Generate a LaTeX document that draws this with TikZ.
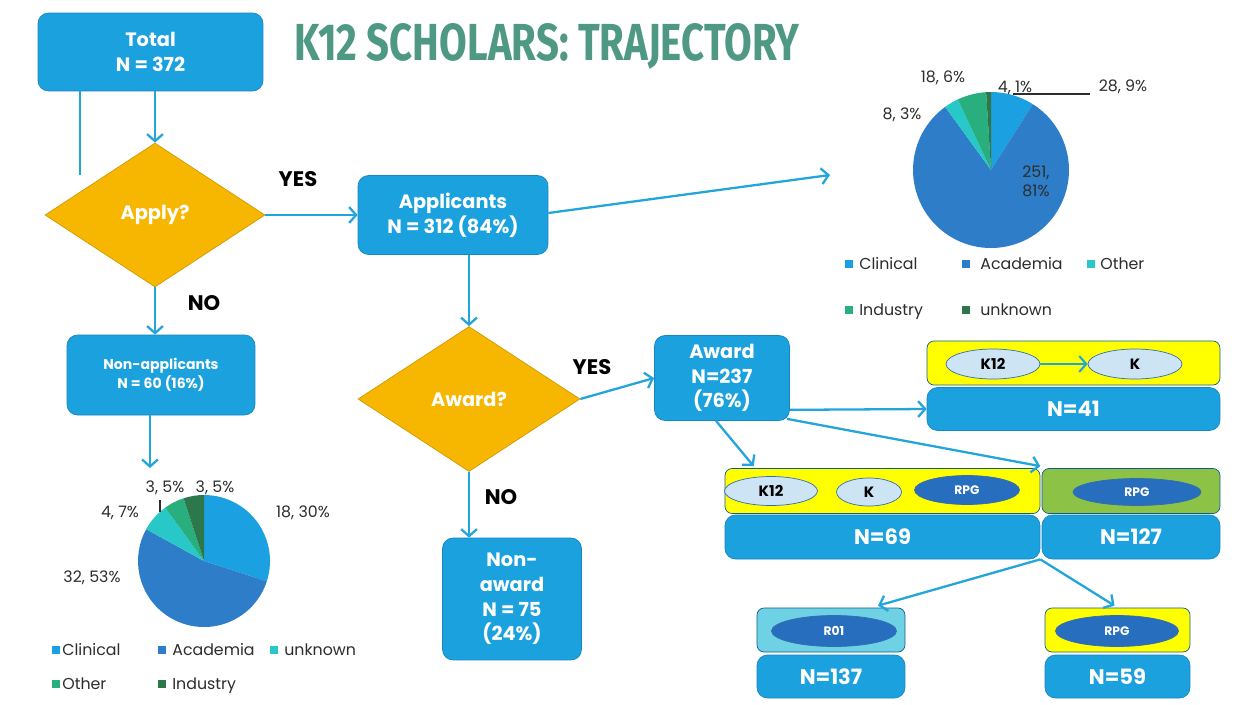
\documentclass[tikz,border=0pt]{standalone}
\usepackage{fontspec}
\usepackage{graphicx}
\setmainfont{Poppins}
\newfontfamily\titlefont{Fira Sans}
\usetikzlibrary{shapes.geometric,arrows.meta,calc}
\definecolor{boxblue}{RGB}{27,161,222}
\definecolor{boxedge}{RGB}{22,135,195}
\definecolor{dorange}{RGB}{247,182,0}
\definecolor{ylw}{RGB}{255,255,0}
\definecolor{grn}{RGB}{140,195,70}
\definecolor{cyanbox}{RGB}{110,210,228}
\definecolor{ellight}{RGB}{205,228,245}
\definecolor{eledge}{RGB}{50,110,175}
\definecolor{eldark}{RGB}{40,110,190}
\definecolor{arrowc}{RGB}{35,165,220}
\definecolor{titlec}{RGB}{78,152,132}
\definecolor{pclin}{RGB}{27,161,226}
\definecolor{pacad}{RGB}{45,125,200}
\definecolor{pcyan}{RGB}{40,200,200}
\definecolor{pteal}{RGB}{40,175,125}
\definecolor{pdark}{RGB}{45,120,75}
\definecolor{lbl}{RGB}{45,45,45}
\newcommand\pieslice[4]{\fill[#1] (0,0) -- (#2:#4) arc[start angle=#2,end angle=#3,radius=#4] -- cycle;}
\tikzset{
  box/.style={draw=boxedge, fill=boxblue, rounded corners=6pt, text=white, font=\bfseries\fontsize{11}{14}\selectfont, align=center, inner sep=0pt},
  topbar/.style={draw=boxedge!70!black, rounded corners=4pt, inner sep=0pt},
  dec/.style={diamond, draw=dorange!85!black, fill=dorange, text=white, font=\bfseries\fontsize{11}{13}\selectfont, inner sep=0pt},
  arr/.style={draw=arrowc, line width=1.3pt, -{Straight Barb[length=4pt,width=9pt]}},
  conn/.style={draw=arrowc, line width=1.1pt},
  lab/.style={font=\bfseries\fontsize{12}{14}\selectfont, text=black},
  tag/.style={draw=eledge, fill=ellight, ellipse, font=\bfseries\fontsize{8.5}{10}\selectfont, inner sep=0pt},
  tagd/.style={draw=eledge, fill=eldark, ellipse, text=white, font=\bfseries\fontsize{7}{8}\selectfont, inner sep=0pt},
  pl/.style={text=lbl, font=\fontsize{9}{11}\selectfont, inner sep=0pt},
  leg/.style={pl, anchor=west, text height=1.5ex, text depth=0.35ex}
}
\begin{document}
\begin{tikzpicture}[x=0.02cm,y=-0.02cm]
\useasboundingbox[fill=white] (0,0) rectangle (1235,704);

% title
\node[text=titlec, inner sep=0pt] (title) at (547,46) {\resizebox{10.1cm}{0.74cm}{\titlefont\bfseries K12 SCHOLARS: TRAJECTORY}};

% main boxes
\node[box, minimum width=4.5cm, minimum height=1.56cm] (total) at (150.5,52) {Total\\N = 372};
\node[dec, minimum width=4.4cm, minimum height=2.88cm] (apply) at (155,215) {Apply?};
\node[box, minimum width=3.8cm, minimum height=1.58cm] (appl) at (453,215) {Applicants\\N = 312 (84\%)};
\node[box, minimum width=3.76cm, minimum height=1.6cm, font=\bfseries\fontsize{8}{11}\selectfont] (nonapp) at (161,375) {Non-applicants\\N = 60 (16\%)};
\node[dec, minimum width=4.44cm, minimum height=2.9cm] (awardq) at (469,399) {Award?};
\node[box, minimum width=2.7cm, minimum height=1.7cm] (award) at (722,378) {Award\\N=237\\(76\%)};
\node[box, minimum width=2.78cm, minimum height=2.44cm] (nonaward) at (512,599) {Non-\\award\\N = 75\\(24\%)};

% labels
\node[lab] (yes1) at (298,179) {YES};
\node[lab] (no1) at (204,303) {NO};
\node[lab] (yes2) at (592,367) {YES};
\node[lab] (no2) at (501,497) {NO};

% N=41 group
\node[topbar, fill=ylw, minimum width=5.86cm, minimum height=0.88cm] (t41) at (1073.5,363) {};
\node[box, minimum width=5.86cm, minimum height=0.86cm, font=\bfseries\fontsize{12}{14}\selectfont] (b41) at (1073.5,409) {N=41};
\node[tag, minimum width=1.88cm, minimum height=0.6cm] (k12a) at (993,364) {K12};
\node[tag, minimum width=1.88cm, minimum height=0.6cm] (ka) at (1135,364) {K};
\draw[arr, line width=1.2pt] (k12a) -- (ka);

% N=69 group
\node[topbar, fill=ylw, minimum width=6.3cm, minimum height=0.9cm] (t69) at (882.5,491) {};
\node[box, minimum width=6.3cm, minimum height=0.88cm, font=\bfseries\fontsize{12}{14}\selectfont] (b69) at (882.5,537) {N=69};
\node[tag, minimum width=1.86cm, minimum height=0.58cm] (k12b) at (771,491) {K12};
\node[tag, minimum width=1.3cm, minimum height=0.56cm] (kb) at (869,492) {K};
\node[tagd, minimum width=2.1cm, minimum height=0.58cm] (rpgb) at (967,490) {RPG};

% N=127 group
\node[topbar, fill=grn, minimum width=3.56cm, minimum height=0.9cm] (t127) at (1131,491) {};
\node[box, minimum width=3.56cm, minimum height=0.88cm, font=\bfseries\fontsize{12}{14}\selectfont] (b127) at (1131,537) {N=127};
\node[tagd, minimum width=2.56cm, minimum height=0.54cm] (rpgc) at (1137,492) {RPG};

% R01 group
\node[topbar, fill=cyanbox, minimum width=2.96cm, minimum height=0.88cm] (tr01) at (831,630) {};
\node[box, minimum width=2.96cm, minimum height=0.86cm, font=\bfseries\fontsize{12}{14}\selectfont] (b137) at (831,676.5) {N=137};
\node[tagd, minimum width=2.5cm, minimum height=0.62cm] (r01) at (834,631) {R01};

% RPG N=59 group
\node[topbar, fill=ylw, minimum width=2.9cm, minimum height=0.88cm] (trpg) at (1117.5,630) {};
\node[box, minimum width=2.9cm, minimum height=0.86cm, font=\bfseries\fontsize{12}{14}\selectfont] (b59) at (1117.5,676.5) {N=59};
\node[tagd, minimum width=2.46cm, minimum height=0.62cm] (rpgd) at (1117,631) {RPG};

% coordinates
\coordinate (stray) at (80,175);
\coordinate (pie1in) at (150,468);
\coordinate (pie2in) at (830,175);

% connectors
\draw[conn] (stray |- total.south) -- (stray);
\draw[arr] (apply.north |- total.south) -- (apply.north);
\draw[arr] (apply.east) -- (appl.west);
\draw[arr] (apply.south) -- (apply.south |- nonapp.north);
\draw[arr] (pie1in |- nonapp.south) -- (pie1in);
\draw[arr] ($(appl.east)+(0,-2)$) -- (pie2in);
\draw[arr] (awardq.north |- appl.south) -- (awardq.north);
\draw[arr] (awardq.south) -- (awardq.south |- nonaward.north);
\draw[arr] (awardq.east) -- (award.west);
\draw[arr] ($(award.south east)+(0,-11)$) -- (b41.west);
\draw[arr] ($(award.south)+(-6,0)$) -- ($(t69.north west)+(29,-2)$);
\draw[arr] ($(award.south east)+(-3,-2)$) -- ($(t69.north east)+(0,-2)$);
\draw[arr] (b69.south east) -- ($(tr01.north)+(47,-2)$);
\draw[arr] (b69.south east) -- ($(trpg.north)+(-3,-2)$);

% pie 1
\begin{scope}[shift={(204,561)},x=1cm,y=1cm]
\pieslice{pclin}{90}{-18}{1.32}
\pieslice{pacad}{-18}{-208.8}{1.32}
\pieslice{pcyan}{-208.8}{-234}{1.32}
\pieslice{pteal}{-234}{-252}{1.32}
\pieslice{pdark}{-252}{-270}{1.32}
\end{scope}
\node[pl] (p1a) at (303,513) {18, 30\%};
\node[pl] (p1b) at (92,578) {32, 53\%};
\node[pl] (p1c) at (120,513) {4, 7\%};
\node[pl] (p1d) at (165,488) {3, 5\%};
\node[pl] (p1e) at (215,488) {3, 5\%};
\coordinate (tick1) at (160,500);
\draw[lbl, line width=0.6pt] (tick1) -- ++(0,12);
% legend 1
\fill[pclin] (52,646) rectangle (60,654); \node[leg] (l1a) at (62,650) {Clinical};
\fill[pacad] (158,646) rectangle (166,654); \node[leg] (l1b) at (172,650) {Academia};
\fill[pcyan] (270,646) rectangle (278,654); \node[leg] (l1c) at (284,650) {unknown};
\fill[pteal] (52,680) rectangle (60,688); \node[leg] (l1d) at (62,684) {Other};
\fill[pdark] (158,680) rectangle (166,688); \node[leg] (l1e) at (172,684) {Industry};

% pie 2
\begin{scope}[shift={(991,170)},x=1cm,y=1cm]
\pieslice{pclin}{90}{57.6}{1.56}
\pieslice{pacad}{57.6}{-234}{1.56}
\pieslice{pcyan}{-234}{-244.8}{1.56}
\pieslice{pteal}{-244.8}{-266.4}{1.56}
\pieslice{pdark}{-266.4}{-270}{1.56}
\end{scope}
\node[pl] (p2a) at (943,78) {18, 6\%};
\node[pl] (p2b) at (1015,88) {4, 1\%};
\node[pl] (p2c) at (1123,87) {28, 9\%};
\node[pl] (p2d) at (902,115) {8, 3\%};
\node[pl, align=center] (p2e) at (1036,181) {251,\\81\%};
\coordinate (lead2) at (1013,94);
\draw[lbl, line width=0.6pt] (lead2) -- ++(77,0);
% legend 2
\fill[pclin] (845,260) rectangle (853,268); \node[leg] (l2a) at (859,264) {Clinical};
\fill[pacad] (962,260) rectangle (970,268); \node[leg] (l2b) at (980,264) {Academia};
\fill[pcyan] (1087,260) rectangle (1095,268); \node[leg] (l2c) at (1100,264) {Other};
\fill[pteal] (845,306) rectangle (853,314); \node[leg] (l2d) at (859,310) {Industry};
\fill[pdark] (962,306) rectangle (970,314); \node[leg] (l2e) at (980,310) {unknown};
\end{tikzpicture}
\end{document}
